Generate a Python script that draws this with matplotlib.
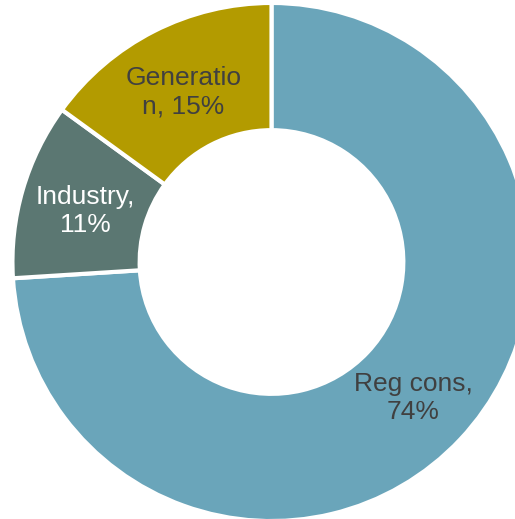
import matplotlib
matplotlib.use("Agg")
import matplotlib.pyplot as plt
import numpy as np

# data, clockwise from 12 o'clock
names = ["Reg cons,\n", "Industry,\n", "Generatio\nn, "]
shares = [74, 11, 15]
colors = ["#6aa5ba", "#5b7772", "#b39b00"]
text_colors = ["#404040", "#ffffff", "#404040"]

plt.rcParams["font.family"] = ["Liberation Sans", "DejaVu Sans"]

fig = plt.figure(figsize=(5.15, 5.19), dpi=100)
ax = fig.add_axes([0, 0, 1, 1])

wedges, _ = ax.pie(shares, colors=colors, startangle=90, counterclock=False,
                   radius=1.008,
                   wedgeprops=dict(width=0.495, edgecolor="white", linewidth=3))

# labels in the middle of the ring (a touch lower, like the original)
r_lab = 0.755
for w, name, val, tc in zip(wedges, names, shares, text_colors):
    ang = np.deg2rad((w.theta1 + w.theta2) / 2)
    ax.text(r_lab * np.cos(ang), r_lab * np.sin(ang) - 0.012, f"{name}{val}%",
            ha="center", va="center", fontsize=19, color=tc, linespacing=1.25)

# the chart is clipped on the right and bottom like the original
ax.set_xlim(-1.0564, 0.9475)
ax.set_ylim(-1.0, 1.0195)
ax.set_aspect("auto")
ax.axis("off")

fig.savefig("out.png", dpi=100)
